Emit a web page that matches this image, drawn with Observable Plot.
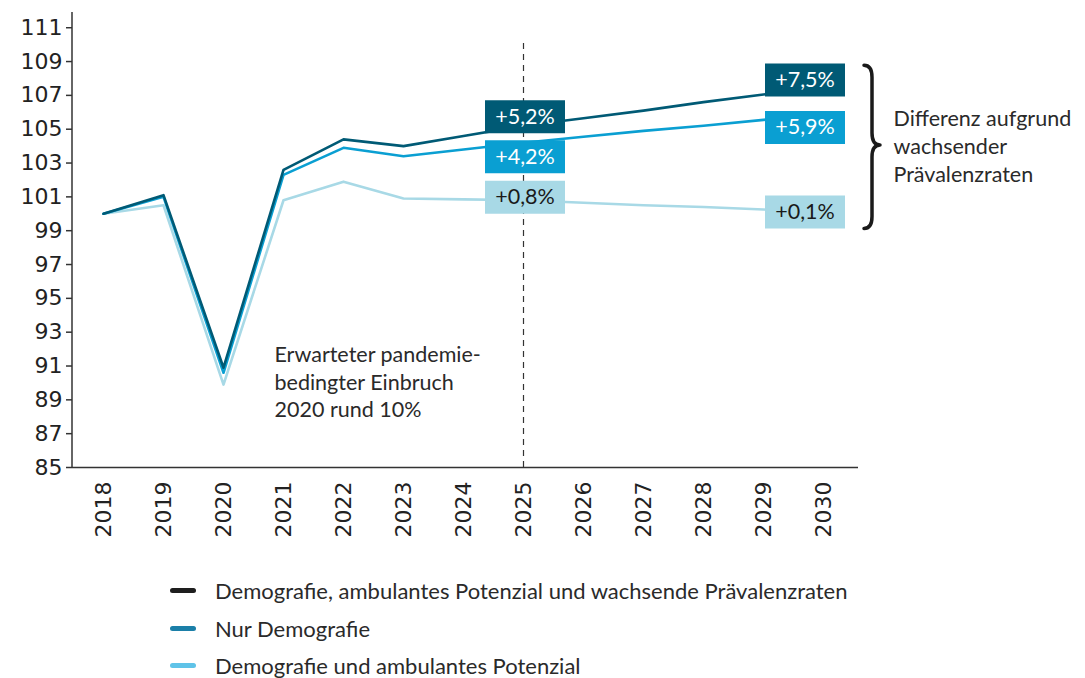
<!DOCTYPE html>
<html>
<head>
<meta charset="utf-8">
<script src="https://cdn.jsdelivr.net/npm/d3@7"></script>
<script src="https://cdn.jsdelivr.net/npm/@observablehq/plot@0.6"></script>
<style>
  body { margin: 0; background: #fff; }
  #wrap { width: 1085px; position: relative; }
  #legend { margin-left: 170px; padding-top: 12px; font-family: Lato, "Open Sans", sans-serif; font-size: 22px; color: #2a2a2a; }
  .row { display: flex; align-items: center; height: 37.5px; }
  .sw { width: 26px; height: 5px; border-radius: 3px; margin-right: 19px; }
</style>
</head>
<body>
<div id="wrap"></div>
<script>
// ---- data ----
const years = [2018, 2019, 2020, 2021, 2022, 2023, 2024, 2025, 2026, 2027, 2028, 2029, 2030];
const seriesNames = [
  "Demografie, ambulantes Potenzial und wachsende Prävalenzraten",
  "Nur Demografie",
  "Demografie und ambulantes Potenzial"
];
const valuesFull = [100, 101.1, 90.9, 102.6, 104.4, 104.0, 104.6, 105.2, 105.65, 106.1, 106.6, 107.05, 107.5];
const valuesDemo = [100, 101.0, 90.6, 102.3, 103.9, 103.4, 103.8, 104.2, 104.55, 104.9, 105.2, 105.55, 105.9];
const valuesAmb  = [100, 100.5, 89.9, 100.8, 101.9, 100.9, 100.85, 100.8, 100.65, 100.5, 100.4, 100.25, 100.1];
const labels2025 = ["+5,2%", "+4,2%", "+0,8%"];
const labels2030 = ["+7,5%", "+5,9%", "+0,1%"];
const yTicks = [85, 87, 89, 91, 93, 95, 97, 99, 101, 103, 105, 107, 109, 111];
const forecastYear = 2025;
const noteLeft = "Erwarteter pandemie-\nbedingter Einbruch\n2020 rund 10%";
const noteRight = "Differenz aufgrund\nwachsender\nPrävalenzraten";

// ---- styles ----
const lineColors = ["#005a75", "#0a9fd2", "#a8d9e6"];
const textColors = ["#ffffff", "#ffffff", "#1a1a1a"];
const legendColors = ["#1e1e1e", "#1b7fa8", "#5fc3e8"];
const dy2025 = [-9, 14, -3];
const dy2030 = [-7, 13.5, 0];
const labelFont = "Lato, 'Open Sans', sans-serif";
const labelSize = 21.5;

const allValues = [valuesFull, valuesDemo, valuesAmb];
const rows = [];
allValues.forEach((vals, s) => years.forEach((yr, i) => rows.push({series: s, year: yr, value: vals[i]})));

const boxSymbol = { draw(ctx) { ctx.rect(-40, -16.5, 80, 33); } };

const boxMarks = [];
[2, 1, 0].forEach(s => {
  const vals = allValues[s];
  const d25 = [{year: 2025, value: vals[years.indexOf(2025)], label: labels2025[s]}];
  const d30 = [{year: 2030, value: vals[years.indexOf(2030)], label: labels2030[s]}];
  boxMarks.push(
    Plot.dot(d25, {x: "year", y: "value", symbol: boxSymbol, fill: lineColors[s], stroke: "none", dx: 1.5, dy: dy2025[s]}),
    Plot.text(d25, {x: "year", y: "value", text: "label", fill: textColors[s], dx: 1.5, dy: dy2025[s], fontSize: labelSize, fontFamily: labelFont}),
    Plot.dot(d30, {x: "year", y: "value", symbol: boxSymbol, fill: lineColors[s], stroke: "none", dx: -18.5, dy: dy2030[s]}),
    Plot.text(d30, {x: "year", y: "value", text: "label", fill: textColors[s], dx: -18.5, dy: dy2030[s], fontSize: labelSize, fontFamily: labelFont})
  );
});

// left axis line
const leftAxisLine = (index, scales, values, dim) => {
  const g = d3.create("svg:g");
  g.append("line")
    .attr("x1", dim.marginLeft).attr("x2", dim.marginLeft)
    .attr("y1", dim.marginTop).attr("y2", dim.height - dim.marginBottom)
    .attr("stroke", "#333").attr("stroke-width", 1.5);
  return g.node();
};

// curly brace right of the 2030 labels
const brace = (index, scales) => {
  const x0 = scales.x(2030) + 41;
  const y1 = scales.y(108.75), y2 = scales.y(99.1), ym = scales.y(104.04);
  const a = 8, r = 12;
  const p = `M${x0},${y1} Q${x0 + a},${y1} ${x0 + a},${y1 + r} L${x0 + a},${ym - r} Q${x0 + a},${ym} ${x0 + 2 * a},${ym} ` +
            `Q${x0 + a},${ym} ${x0 + a},${ym + r} L${x0 + a},${y2 - r} Q${x0 + a},${y2} ${x0},${y2}`;
  const g = d3.create("svg:g");
  g.append("path").attr("d", p).attr("fill", "none").attr("stroke", "#1a1a1a")
    .attr("stroke-width", 3.5).attr("stroke-linecap", "round").attr("stroke-linejoin", "round");
  return g.node();
};

const chart = Plot.plot({
  width: 1085,
  height: 560,
  marginLeft: 72,
  marginRight: 227,
  marginTop: 12,
  marginBottom: 93,
  style: {fontFamily: "'DejaVu Sans', sans-serif", color: "#222", background: "#fff", overflow: "visible"},
  x: {type: "point", domain: years, range: [102, 823], padding: 0},
  y: {domain: [85, 111.9]},
  marks: [
    Plot.axisY({ticks: yTicks, tickSize: 6, tickPadding: 4, fontSize: 22, label: null, tickFormat: d => String(d), stroke: "#333", strokeWidth: 1.5}),
    Plot.axisX({tickRotate: -90, tickSize: 0, tickPadding: 14, fontSize: 22, label: null, tickFormat: d => String(d)}),
    Plot.ruleY([85], {stroke: "#333", strokeWidth: 1.5}),
    leftAxisLine,
    Plot.ruleX([forecastYear], {y1: 85, y2: 110.2, stroke: "#333", strokeWidth: 1.2, strokeDasharray: "6,5"}),
    Plot.line(rows.filter(d => d.series === 2), {x: "year", y: "value", stroke: lineColors[2], strokeWidth: 2.6}),
    Plot.line(rows.filter(d => d.series === 1), {x: "year", y: "value", stroke: lineColors[1], strokeWidth: 2.6}),
    Plot.line(rows.filter(d => d.series === 0), {x: "year", y: "value", stroke: lineColors[0], strokeWidth: 2.6}),
    ...boxMarks,
    Plot.text([noteLeft], {x: 2021, y: 90.14, text: d => d, textAnchor: "start", dx: -9, fontSize: labelSize, lineHeight: 1.3, fill: "#2a2a2a", fontFamily: labelFont}),
    Plot.text([noteRight], {x: 2030, y: 104.04, text: d => d, textAnchor: "start", dx: 70, fontSize: labelSize, lineHeight: 1.3, fill: "#2a2a2a", fontFamily: labelFont}),
    brace
  ]
});

const wrap = document.getElementById("wrap");
wrap.appendChild(chart);

const legend = document.createElement("div");
legend.id = "legend";
seriesNames.forEach((name, i) => {
  const row = document.createElement("div");
  row.className = "row";
  const sw = document.createElement("span");
  sw.className = "sw";
  sw.style.background = legendColors[i];
  const t = document.createElement("span");
  t.textContent = name;
  row.appendChild(sw);
  row.appendChild(t);
  legend.appendChild(row);
});
wrap.appendChild(legend);
</script>
</body>
</html>
